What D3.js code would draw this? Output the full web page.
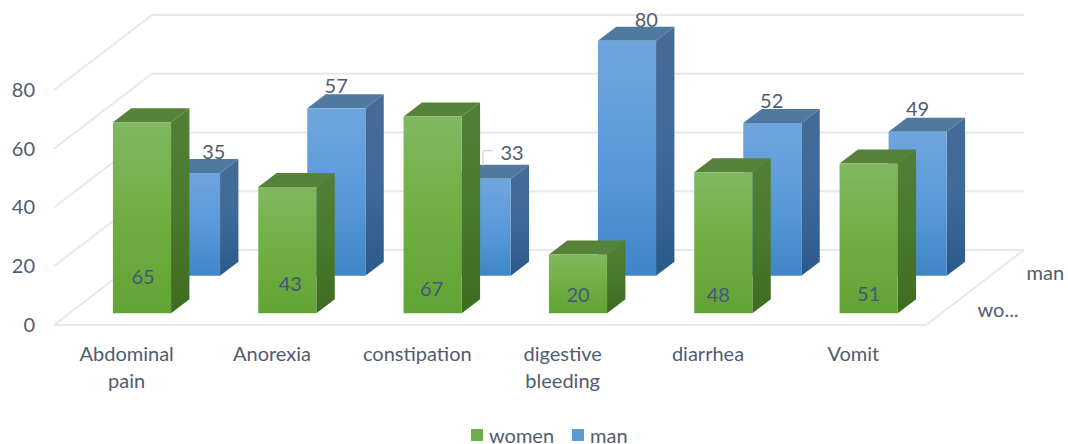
<!DOCTYPE html>
<html>
<head>
<meta charset="utf-8">
<script src="https://cdn.jsdelivr.net/npm/d3@7"></script>
<style>
    html, body { margin: 0; padding: 0; background: #fff; }
    svg { display: block; }
    text { font-family: Lato, "Open Sans", sans-serif; font-size: 20px; fill: #515c70; }
</style>
</head>
<body>
<svg id="chart" width="1068" height="444"></svg>
<script>
const categories = [["Abdominal", "pain"], ["Anorexia"], ["constipation"], ["digestive", "bleeding"], ["diarrhea"], ["Vomit"]];
const seriesNames = ["women", "man"];
const women = [65, 43, 67, 20, 48, 51];
const man = [35, 57, 33, 80, 52, 49];
const valueTicks = [0, 20, 40, 60, 80];
const depthLabels = ["wo...", "man"];

const svg = d3.select("#chart");

// floor of the 3d box
const floorY = 325;
const depthX = 98;
const depthY = 75;

const xScale = d3.scaleBand()
                 .domain(categories.map(d => d.join(" ")))
                 .range([54, 926])
                 .paddingInner(0.6)
                 .paddingOuter(0.3);
const xStep = d3.scaleBand()
                .domain(xScale.domain())
                .range([54, 926]);
const yScale = d3.scaleLinear().domain([0, 80]).range([0, 235]);
const zScale = d3.scaleBand()
                 .domain(seriesNames)
                 .range([0, 1])
                 .paddingInner(0.625)
                 .paddingOuter(0.3125);

// x in px on the front edge, z as 0..1 into the box, v as chart value
const project = (x, z, v) => [x + depthX * z, floorY - depthY * z - yScale(v)];

const defs = svg.append("defs");
function gradient(id, stops) {
    const g = defs.append("linearGradient")
                  .attr("id", id)
                  .attr("x1", 0).attr("y1", 0)
                  .attr("x2", 0).attr("y2", 1);
    stops.forEach((c, i) => {
        g.append("stop")
         .attr("offset", i / (stops.length - 1))
         .attr("stop-color", c);
    });
}
gradient("women-front", ["#80b861", "#70ae42", "#62a335"]);
gradient("women-side", ["#527f37", "#4a7a2d", "#3e6b20"]);
gradient("man-front", ["#6fa5de", "#5a9ada", "#3f86c8"]);
gradient("man-side", ["#466b97", "#3e6a9a", "#2a5a8a"]);

const topColor = { women: "#568339", man: "#50799f" };

// walls
const grid = svg.append("g")
                .attr("fill", "none")
                .attr("stroke", "#e6e7f0")
                .attr("stroke-width", 2);

valueTicks.forEach(v => {
    const a = project(54, 0, v);
    const b = project(54, 1, v);
    const c = project(926, 1, v);
    grid.append("path").attr("d", d3.line()([a, b, c]));
});
grid.append("path").attr("d", d3.line()([project(54, 0, 0), project(926, 0, 0), project(926, 1, 0)]));

// bars, back row first
const rows = [
    { name: "man", values: man },
    { name: "women", values: women }
];
const poly = d3.line();

rows.forEach(row => {
    const z0 = zScale(row.name);
    const z1 = z0 + zScale.bandwidth();
    const bars = svg.append("g")
                    .selectAll("g")
                    .data(row.values.map((v, i) => ({ v, x0: xScale(xScale.domain()[i]) })))
                    .join("g");

    bars.append("path")
        .attr("fill", topColor[row.name])
        .attr("d", d => {
            const x1 = d.x0 + xScale.bandwidth();
            return poly([project(d.x0, z0, d.v), project(x1, z0, d.v), project(x1, z1, d.v), project(d.x0, z1, d.v)]) + "Z";
        });
    bars.append("path")
        .attr("fill", `url(#${row.name}-side)`)
        .attr("d", d => {
            const x1 = d.x0 + xScale.bandwidth();
            return poly([project(x1, z0, d.v), project(x1, z1, d.v), project(x1, z1, 0), project(x1, z0, 0)]) + "Z";
        });
    bars.append("path")
        .attr("fill", `url(#${row.name}-front)`)
        .attr("d", d => {
            const x1 = d.x0 + xScale.bandwidth();
            return poly([project(d.x0, z0, d.v), project(x1, z0, d.v), project(x1, z0, 0), project(d.x0, z0, 0)]) + "Z";
        });
});

// value labels. Excel placed these by hand so each one has its own nudge
const womenNudge = [[1, -37], [3, -30], [-1, -25], [0, -19], [-5, -19], [0, -20]];
const manNudge = [[4.5, -8], [-18.5, -9], [12, -13], [1, -8], [-19, -9], [-18.5, -10]];

svg.append("g")
   .selectAll("text")
   .data(women)
   .join("text")
   .attr("text-anchor", "middle")
   .attr("dominant-baseline", "central")
   .style("fill", "#45587a")
   .attr("transform", (d, i) => {
       const x = xScale(xScale.domain()[i]) + xScale.bandwidth() / 2;
       const p = project(x, zScale("women"), 0);
       return `translate(${p[0] + womenNudge[i][0]},${p[1] + womenNudge[i][1]})`;
   })
   .text(d => d);

const manLabelPos = (d, i) => {
    const x = xScale(xScale.domain()[i]) + xScale.bandwidth() / 2;
    const p = project(x, zScale("man") + zScale.bandwidth(), d);
    return [p[0] + manNudge[i][0], p[1] + manNudge[i][1]];
};

svg.append("g")
   .selectAll("text")
   .data(man)
   .join("text")
   .attr("text-anchor", "middle")
   .attr("dominant-baseline", "central")
   .attr("transform", (d, i) => `translate(${manLabelPos(d, i)})`)
   .text(d => d);

// leader line on the 33 label
const leadAt = manLabelPos(man[2], 2);
svg.append("path")
   .attr("fill", "none")
   .attr("stroke", "#c9c9c9")
   .attr("d", d3.line()([[leadAt[0] - 29, leadAt[1] + 14], [leadAt[0] - 29, leadAt[1] - 1], [leadAt[0] - 19, leadAt[1] - 1]]));

// value axis
const yAxis = d3.axisLeft(d3.scaleLinear().domain([0, 80]).range([0, -235]))
                .tickValues(valueTicks)
                .tickSize(0)
                .tickPadding(0);
const yAxisGroup = svg.append("g")
                      .attr("transform", `translate(35,${floorY})`)
                      .call(yAxis);
yAxisGroup.select(".domain").remove();
yAxisGroup.attr("font-family", null).attr("font-size", null);

// category labels
svg.append("g")
   .selectAll("text")
   .data(categories)
   .join("text")
   .attr("text-anchor", "middle")
   .attr("x", d => xStep(d.join(" ")) + xStep.bandwidth() / 2)
   .attr("y", 361)
   .selectAll("tspan")
   .data(d => d)
   .join("tspan")
   .attr("x", function () { return d3.select(this.parentNode).attr("x"); })
   .attr("dy", (d, i) => i ? 27 : 0)
   .text(d => d);

// depth axis labels
svg.append("g")
   .selectAll("text")
   .data(depthLabels)
   .join("text")
   .attr("dominant-baseline", "central")
   .attr("x", (d, i) => project(926, zScale(seriesNames[i]) + zScale.bandwidth() / 2, 0)[0] + 27)
   .attr("y", (d, i) => project(926, zScale(seriesNames[i]) + zScale.bandwidth() / 2, 0)[1] + 3)
   .text(d => d);

// legend
const legendX = d3.scaleOrdinal().domain(seriesNames).range([471, 572]);
const legendColor = d3.scaleOrdinal().domain(seriesNames).range(["#70ad47", "#5b9bd5"]);
const legend = svg.append("g")
                  .selectAll("g")
                  .data(seriesNames)
                  .join("g")
                  .attr("transform", d => `translate(${legendX(d)},429)`);
legend.append("rect")
      .attr("width", 12)
      .attr("height", 12)
      .attr("fill", d => legendColor(d));
legend.append("text")
      .attr("x", 18)
      .attr("y", 6)
      .attr("dominant-baseline", "central")
      .text(d => d);
</script>
</body>
</html>
